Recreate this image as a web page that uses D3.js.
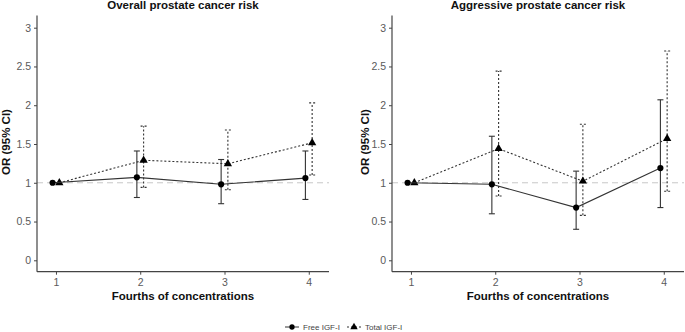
<!DOCTYPE html>
<html>
<head>
<meta charset="utf-8">
<script src="https://cdn.jsdelivr.net/npm/d3@7"></script>
<style>
  body { margin: 0; background: #fff; }
  svg { font-family: "Liberation Sans", Arial, sans-serif; }
</style>
</head>
<body>
<svg width="685" height="332"></svg>
<script>
// quartiles and odds ratios
const quartiles = [1, 2, 3, 4];
const yTicks = [0, 0.5, 1, 1.5, 2, 2.5, 3];

const overallFree = [1, 1.07, 0.98, 1.06];
const overallFreeLo = [1, 0.81, 0.73, 0.785];
const overallFreeHi = [1, 1.41, 1.30, 1.41];
const overallTotal = [1, 1.29, 1.245, 1.515];
const overallTotalLo = [1, 0.94, 0.91, 1.10];
const overallTotalHi = [1, 1.73, 1.68, 2.03];

const aggrFree = [1, 0.98, 0.68, 1.19];
const aggrFreeLo = [1, 0.60, 0.40, 0.68];
const aggrFreeHi = [1, 1.60, 1.15, 2.07];
const aggrTotal = [1, 1.44, 1.02, 1.57];
const aggrTotalLo = [1, 0.83, 0.58, 0.89];
const aggrTotalHi = [1, 2.44, 1.755, 2.70];

const panels = [
  {title: 'Overall prostate cancer risk', x0: 37, x1: 329, labelX: 10,
   free: [overallFree, overallFreeLo, overallFreeHi],
   total: [overallTotal, overallTotalLo, overallTotalHi]},
  {title: 'Aggressive prostate cancer risk', x0: 392, x1: 684, labelX: 369,
   free: [aggrFree, aggrFreeLo, aggrFreeHi],
   total: [aggrTotal, aggrTotalLo, aggrTotalHi]}
];

const svg = d3.select('svg');
const y = d3.scaleLinear().domain([0, 3]).range([260.3, 27.7]);
const yTop = 15.5, yBottom = 271.7;
const dodge = 0.04;
const lineCol = '#333';
const textCol = '#5a5a5a';

panels.forEach(p => {
  const x = d3.scaleLinear().domain([0.775, 4.24]).range([p.x0, p.x1]);
  const g = svg.append('g');

  // reference line at OR = 1
  g.append('line')
    .attr('x1', p.x0).attr('x2', p.x1)
    .attr('y1', y(1)).attr('y2', y(1))
    .attr('stroke', '#c8c8c8').attr('stroke-dasharray', '6,4');

  const series = [
    {vals: p.total, off: dodge, dash: '2,2', shape: d3.symbolTriangle, size: 30},
    {vals: p.free, off: -dodge, dash: null, shape: d3.symbolCircle, size: 30}
  ];

  series.forEach(s => {
    const [est, lo, hi] = s.vals;
    const pts = quartiles.map((q, i) => ({q, est: est[i], lo: lo[i], hi: hi[i]}));

    g.append('path')
      .datum(pts)
      .attr('fill', 'none')
      .attr('stroke', lineCol)
      .attr('stroke-width', 1.1)
      .attr('stroke-dasharray', s.dash)
      .attr('d', d3.line().x(d => x(d.q + s.off)).y(d => y(d.est)));

    const eb = g.append('g').selectAll('g')
      .data(pts.filter(d => d.hi > d.lo))
      .join('g')
      .attr('stroke', lineCol)
      .attr('stroke-width', 1.1)
      .attr('stroke-dasharray', s.dash);
    eb.append('line')
      .attr('x1', d => x(d.q + s.off)).attr('x2', d => x(d.q + s.off))
      .attr('y1', d => y(d.lo)).attr('y2', d => y(d.hi));
    eb.append('line')
      .attr('x1', d => x(d.q + s.off) - 3).attr('x2', d => x(d.q + s.off) + 3)
      .attr('y1', d => y(d.lo)).attr('y2', d => y(d.lo));
    eb.append('line')
      .attr('x1', d => x(d.q + s.off) - 3).attr('x2', d => x(d.q + s.off) + 3)
      .attr('y1', d => y(d.hi)).attr('y2', d => y(d.hi));

    g.append('g').selectAll('path')
      .data(pts)
      .join('path')
      .attr('d', d3.symbol().type(s.shape).size(s.size))
      .attr('transform', d => `translate(${x(d.q + s.off)},${y(d.est)})`)
      .attr('fill', '#000');
  });

  // axes
  const yAxis = g.append('g')
    .attr('transform', `translate(${p.x0},0)`)
    .call(d3.axisLeft(y).tickValues(yTicks).tickSize(3).tickPadding(3)
      .tickFormat(d3.format('')));
  yAxis.select('.domain').attr('d', `M0,${yTop}V${yBottom}`);

  const xAxis = g.append('g')
    .attr('transform', `translate(0,${yBottom})`)
    .call(d3.axisBottom(x).tickValues(quartiles).tickSize(3).tickPadding(4)
      .tickFormat(d3.format('d')));
  xAxis.select('.domain').attr('d', `M${p.x0},0H${p.x1}`);

  [yAxis, xAxis].forEach(a => {
    a.select('.domain').attr('stroke', '#444').attr('stroke-width', 1.2);
    a.selectAll('.tick line').attr('stroke', '#444');
    a.selectAll('.tick text').attr('fill', textCol).attr('font-size', 10.5);
  });

  const cx = (p.x0 + p.x1) / 2;
  g.append('text')
    .attr('x', cx).attr('y', 9)
    .attr('text-anchor', 'middle')
    .attr('font-weight', 'bold').attr('font-size', 11.5)
    .attr('fill', '#111')
    .text(p.title);

  g.append('text')
    .attr('x', cx).attr('y', 300)
    .attr('text-anchor', 'middle')
    .attr('font-weight', 'bold').attr('font-size', 11.5)
    .attr('fill', '#111')
    .text('Fourths of concentrations');

  g.append('text')
    .attr('transform', `translate(${p.labelX},142) rotate(-90)`)
    .attr('text-anchor', 'middle')
    .attr('font-weight', 'bold').attr('font-size', 11.5)
    .attr('fill', '#111')
    .text('OR (95% CI)');
});

// legend
const legendItems = [
  {label: 'Free IGF-I', shape: d3.symbolCircle, size: 22, dash: null, x: 292},
  {label: 'Total IGF-I', shape: d3.symbolTriangle, size: 24, dash: '2,2', x: 354}
];
const leg = svg.append('g').selectAll('g')
  .data(legendItems)
  .join('g')
  .attr('transform', d => `translate(${d.x},327)`);
leg.append('line')
  .attr('x1', -7).attr('x2', 7)
  .attr('stroke', lineCol).attr('stroke-width', 1)
  .attr('stroke-dasharray', d => d.dash);
leg.append('path')
  .attr('d', d => d3.symbol().type(d.shape).size(d.size)())
  .attr('fill', '#000');
leg.append('text')
  .attr('x', 11).attr('y', 3)
  .attr('font-size', 8).attr('fill', '#444')
  .text(d => d.label);
</script>
</body>
</html>
